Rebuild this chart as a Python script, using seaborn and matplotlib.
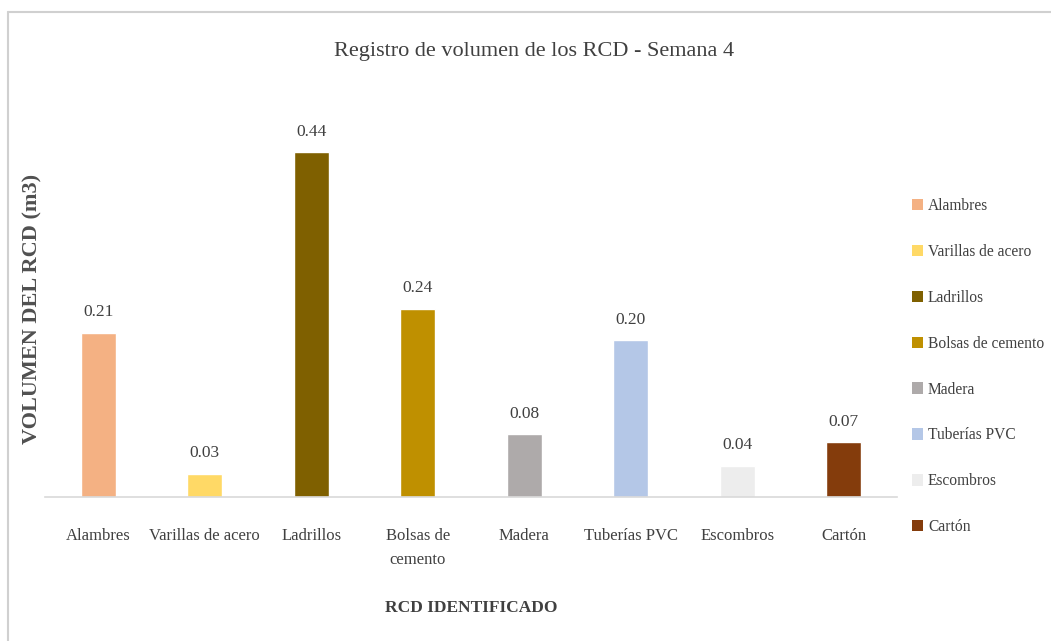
import matplotlib
matplotlib.use("Agg")
import matplotlib.pyplot as plt
import seaborn as sns
import pandas as pd
from matplotlib.lines import Line2D
from matplotlib.patches import Patch

categorias = ["Alambres", "Varillas de acero", "Ladrillos", "Bolsas de cemento",
              "Madera", "Tuberías PVC", "Escombros", "Cartón"]
etiquetas_x = ["Alambres", "Varillas de acero", "Ladrillos", "Bolsas de\ncemento",
               "Madera", "Tuberías PVC", "Escombros", "Cartón"]
volumen = [0.21, 0.03, 0.44, 0.24, 0.08, 0.20, 0.04, 0.07]
colores = ["#F4B183", "#FFD966", "#7F6000", "#BF9000",
           "#AEAAAA", "#B4C7E7", "#EDEDED", "#843C0C"]

df = pd.DataFrame({"RCD": categorias, "Volumen": volumen})

sns.set_style("white")
plt.rcParams["font.family"] = ["Liberation Serif", "DejaVu Serif"]
texto = "#404040"

fig = plt.figure(figsize=(10.51, 6.41), dpi=100)
ax = fig.add_axes([45 / 1051, 1 - 497 / 641, 852 / 1051, (497 - 121) / 641])

sns.barplot(data=df, x="RCD", y="Volumen", hue="RCD", palette=colores,
            width=0.33, legend=False, ax=ax, saturation=1)

for i, v in enumerate(volumen):
    ax.annotate(f"{v:.2f}", (i, v), xytext=(0, 9), textcoords="offset points",
                ha="center", va="bottom", fontsize=12.5, color=texto)

ax.set_xlim(-0.5, 7.5)
ax.set_ylim(0, 0.48)
ax.set_yticks([])
ax.set_xticks(range(len(categorias)))
ax.set_xticklabels(etiquetas_x, fontsize=12, color=texto, linespacing=1.7)
ax.tick_params(axis="x", length=0, pad=22)
for s in ["top", "right", "left"]:
    ax.spines[s].set_visible(False)
ax.spines["bottom"].set_color("#D9D9D9")
ax.spines["bottom"].set_linewidth(1.2)

ax.set_xlabel("RCD IDENTIFICADO", fontsize=12.5, fontweight="bold", color=texto, labelpad=23)
ax.set_ylabel("VOLUMEN DEL RCD (m3)", fontsize=16, fontweight="bold", color="#505050")
ax.yaxis.set_label_coords(-0.003, 0.5)

fig.suptitle("Registro de volumen de los RCD - Semana 4", x=0.508, y=0.935,
             fontsize=16, color=texto)

handles = [Patch(facecolor=c, edgecolor="none") for c in colores]
fig.legend(handles, categorias, loc="center left", bbox_to_anchor=(0.86, 0.428),
           frameon=False, fontsize=11.2, labelcolor=texto, handlelength=0.75,
           handleheight=0.75, handletextpad=0.3, labelspacing=1.92, borderpad=0)

# marco del gráfico
fig.add_artist(Line2D([8 / 1051, 1], [1 - 12 / 641, 1 - 12 / 641], color="#D0D0D0", lw=1.5))
fig.add_artist(Line2D([8 / 1051, 8 / 1051], [0, 1 - 12 / 641], color="#D0D0D0", lw=1.5))

fig.savefig("out.png", dpi=100, facecolor="white")
